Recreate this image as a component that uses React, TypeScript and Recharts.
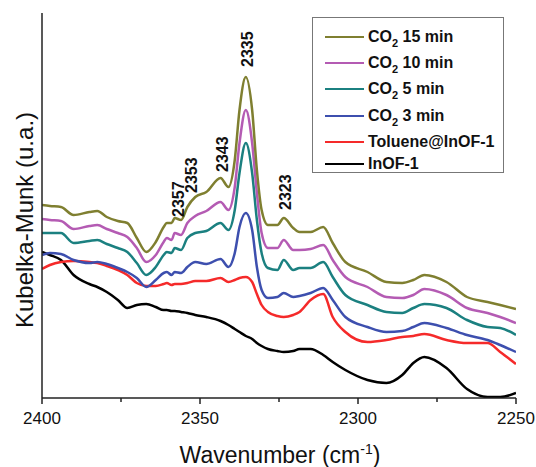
import { LineChart, Line, XAxis, YAxis, ReferenceDot } from 'recharts';

// wavenumber (cm-1) and Kubelka-Munk intensity (arbitrary units)
const WAVENUMBER = [2400, 2397.5, 2394, 2390, 2385, 2382.5, 2379.5, 2376, 2373, 2370, 2367, 2364, 2361.5, 2360.5, 2359, 2358, 2356, 2354, 2351.5, 2348, 2343.5, 2341, 2339, 2337.5, 2335.5, 2333.5, 2332, 2330.5, 2328.5, 2325.5, 2323.5, 2320.5, 2318.5, 2315, 2311, 2308, 2304, 2297, 2291, 2286, 2282.5, 2279, 2272, 2265.5, 2259, 2255, 2250];

const CO2_15 = [193, 192, 191, 183, 186, 187, 181, 177, 175, 160, 146, 156, 171, 175, 175, 180, 178, 191, 201, 206, 220, 211, 238, 288, 321, 288, 228, 188, 173, 173, 180, 170, 166, 166, 171, 155, 136, 126, 116, 115, 118, 123, 116, 101, 96, 93, 89];
const CO2_10 = [179, 178, 177, 169, 172, 173, 169, 165, 161, 150, 136, 143, 156, 160, 158, 165, 163, 175, 182, 187, 196, 188, 211, 255, 288, 255, 205, 165, 150, 150, 158, 148, 148, 149, 153, 138, 121, 111, 101, 100, 103, 109, 103, 90, 85, 81, 75];
const CO2_5 = [165, 165, 165, 155, 157, 158, 154, 150, 146, 135, 123, 131, 143, 146, 145, 150, 148, 160, 165, 167, 175, 168, 188, 225, 255, 225, 178, 145, 130, 128, 138, 128, 130, 130, 136, 121, 103, 93, 86, 85, 90, 94, 90, 78, 71, 70, 63];
const CO2_3 = [143, 145, 144, 138, 135, 136, 134, 130, 126, 120, 111, 118, 125, 126, 123, 126, 125, 131, 136, 134, 139, 131, 145, 171, 185, 168, 131, 108, 100, 101, 105, 101, 102, 105, 110, 98, 81, 71, 66, 67, 71, 75, 70, 63, 58, 53, 46];
const TOLUENE = [129, 133, 136, 137, 136, 135, 132, 128, 123, 115, 112, 112, 114, 115, 113, 114, 114, 115, 117, 117, 120, 116, 118, 120, 121, 116, 104, 93, 86, 82, 81, 83, 86, 98, 104, 81, 66, 56, 58, 61, 62, 64, 58, 55, 55, 46, 34];
const INOF = [146, 143, 138, 123, 114, 111, 106, 98, 90, 93, 94, 91, 88, 88, 87, 87, 86, 85, 83, 81, 77, 73, 69, 66, 62, 59, 55, 52, 49, 47, 46, 47, 49, 49, 43, 36, 28, 18, 15, 23, 35, 41, 30, 9, 1, 1, 5];

const X_TICKS = [2400, 2375, 2350, 2325, 2300, 2275, 2250];

// peak labels: wavenumber and the intensity where the label text starts
const PEAK_LABELS = [2357, 2353, 2343, 2335, 2323];
const PEAK_LABEL_Y = [181, 205, 226, 331, 188];

const SERIES = [
  { key: 'co2_15', name: 'CO2 15 min', sub: ['CO', '2', ' 15 min'], color: '#7f7f30', values: CO2_15 },
  { key: 'co2_10', name: 'CO2 10 min', sub: ['CO', '2', ' 10 min'], color: '#b45bb3', values: CO2_10 },
  { key: 'co2_5', name: 'CO2 5 min', sub: ['CO', '2', ' 5 min'], color: '#1b8080', values: CO2_5 },
  { key: 'co2_3', name: 'CO2 3 min', sub: ['CO', '2', ' 3 min'], color: '#3d4fae', values: CO2_3 },
  { key: 'toluene', name: 'Toluene@InOF-1', sub: null, color: '#f52a2a', values: TOLUENE },
  { key: 'inof', name: 'InOF-1', sub: null, color: '#000000', values: INOF },
];

const data = WAVENUMBER.map((w, i) => {
  const row: Record<string, number> = { w };
  SERIES.forEach((s) => {
    row[s.key] = s.values[i];
  });
  return row;
});

const FONT = "'Liberation Sans', Arial, sans-serif";
const AXIS = '#222';

const XTick = (props: any) => {
  const { x, y, payload } = props;
  const major = payload.value % 50 === 0;
  return (
    <g>
      <line x1={x} x2={x} y1={y} y2={y + (major ? 6 : 4)} stroke={AXIS} strokeWidth={1.5} />
      {major && (
        <text x={x} y={y + 26} textAnchor="middle" fontSize={17} fill="#111" fontFamily={FONT}>
          {payload.value}
        </text>
      )}
    </g>
  );
};

const peakLabel = (text: number) => (props: any) => {
  const vb = props.viewBox || {};
  const cx = (vb.x ?? 0) + (vb.width ?? 0) / 2;
  const cy = (vb.y ?? 0) + (vb.height ?? 0) / 2;
  const bx = cx + 6;
  return (
    <text
      x={bx}
      y={cy}
      transform={`rotate(-90, ${bx}, ${cy})`}
      fontSize={16}
      fontWeight="bold"
      fill="#111"
      fontFamily={FONT}
    >
      {text}
    </text>
  );
};

export default function App() {
  return (
    <div style={{ position: 'absolute', left: 0, top: 0, width: 536, height: 467, fontFamily: FONT, background: '#fff' }}>
      <LineChart width={536} height={467} data={data} margin={{ top: 13, right: 20, left: 0, bottom: 0 }}>
        <XAxis
          dataKey="w"
          type="number"
          domain={[2250, 2400]}
          reversed
          ticks={X_TICKS}
          tick={<XTick />}
          tickSize={0}
          tickMargin={0}
          tickLine={false}
          height={69}
          axisLine={{ stroke: AXIS, strokeWidth: 1.5 }}
          allowDataOverflow
          interval={0}
          label={{
            content: () => (
              <text x={280} y={463} textAnchor="middle" fontSize={23} fill="#111" fontFamily={FONT}>
                Wavenumber (cm
                <tspan dy={-9} fontSize={14}>-1</tspan>
                <tspan dy={9}>)</tspan>
              </text>
            ),
          }}
        />
        <XAxis
          xAxisId="top"
          orientation="top"
          dataKey="w"
          type="number"
          domain={[2250, 2400]}
          reversed
          tick={false}
          tickLine={false}
          height={0}
          axisLine={{ stroke: AXIS, strokeWidth: 1.5 }}
        />
        <YAxis
          type="number"
          domain={[0, 385]}
          width={42}
          tick={false}
          tickLine={false}
          allowDataOverflow
          axisLine={{ stroke: AXIS, strokeWidth: 1.5 }}
          label={{
            content: () => (
              <text
                x={33}
                y={220}
                transform="rotate(-90, 33, 220)"
                textAnchor="middle"
                fontSize={24}
                fill="#111"
                fontFamily={FONT}
              >
                Kubelka-Munk (u.a.)
              </text>
            ),
          }}
        />
        <YAxis
          yAxisId="right"
          orientation="right"
          type="number"
          domain={[0, 385]}
          width={0}
          tick={false}
          tickLine={false}
          axisLine={{ stroke: AXIS, strokeWidth: 1.5 }}
        />
        {[...SERIES].reverse().map((s) => (
          <Line
            key={s.key}
            dataKey={s.key}
            name={s.name}
            type="monotone"
            stroke={s.color}
            strokeWidth={2.5}
            dot={false}
            isAnimationActive={false}
          />
        ))}
        {PEAK_LABELS.map((p, i) => (
          <ReferenceDot
            key={p}
            x={p}
            y={PEAK_LABEL_Y[i]}
            r={0}
            fill="none"
            stroke="none"
            label={{ content: peakLabel(p) }}
          />
        ))}
      </LineChart>
      <div
        style={{
          position: 'absolute',
          left: 312,
          top: 17,
          width: 190,
          height: 154,
          border: '1px solid #777',
          background: '#fff',
        }}
      >
        {SERIES.map((s, i) => (
          <div
            key={s.key}
            style={{
              position: 'absolute',
              left: 12,
              top: [19, 45, 71, 98, 124, 146][i] - 10,
              height: 20,
              display: 'flex',
              alignItems: 'center',
              whiteSpace: 'nowrap',
            }}
          >
            <div style={{ width: 39, height: 2.5, background: s.color, marginRight: 4 }} />
            <span style={{ fontSize: 16, fontWeight: 'bold', color: '#111', lineHeight: '20px' }}>
              {s.sub ? (
                <>
                  {s.sub[0]}
                  <sub style={{ fontSize: 11, verticalAlign: -5, lineHeight: 0 }}>{s.sub[1]}</sub>
                  {s.sub[2]}
                </>
              ) : (
                s.name
              )}
            </span>
          </div>
        ))}
      </div>
    </div>
  );
}
